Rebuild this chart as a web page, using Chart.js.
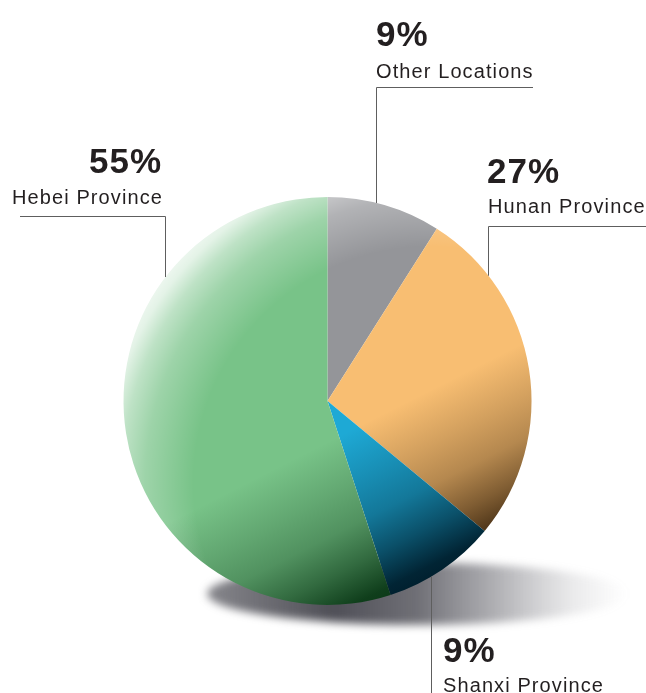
<!DOCTYPE html>
<html>
<head>
<meta charset="utf-8">
<script src="https://cdn.jsdelivr.net/npm/chart.js@4.4.1/dist/chart.umd.min.js"></script>
<style>
  html, body { margin: 0; padding: 0; background: #fff; }
  #wrap { width: 646px; height: 693px; }
</style>
</head>
<body>
<div id="wrap"><canvas id="chart-origin" width="646" height="693"></canvas></div>
<script>
// ---- Data (clockwise from 12 o'clock) ----
const LABELS = ['Other Locations', 'Hunan Province', 'Shanxi Province', 'Hebei Province'];
const SHARES = [9, 27, 9, 55];

// ---- Colours: base tone + shade tone per slice ----
const BASE_COLORS = ['#949599', '#F8BE72', '#1EA9D5', '#78C388'];
const DARK_COLORS = ['#5A5A60', '#3E2810', '#00202F', '#0C3A18'];

const TEXT_COLOR = '#231F20';
const LINE_COLOR = '#5E5E5E';

// label anchors: [percent x, percent baseline, name x, name baseline]
const LABEL_POS = [
  [376, 46, 376, 78],
  [487, 183, 488, 213],
  [443, 662, 443, 692],
  [89, 173, 12, 204],
];

function hexRgb(h) {
  const n = parseInt(h.slice(1), 16);
  return [(n >> 16) & 255, (n >> 8) & 255, n & 255];
}
function rgba(h, a) {
  const [r, g, b] = hexRgb(h);
  return `rgba(${r},${g},${b},${a})`;
}

// shaded fill: base colour, darkening towards the bottom, light rim at upper-left
const fillCache = {};
function shadedFill(chart, i) {
  const area = chart.chartArea;
  const key = i + ':' + area.left + ':' + area.top + ':' + area.width;
  if (fillCache[key]) return fillCache[key];
  const cx = (area.left + area.right) / 2;
  const cy = (area.top + area.bottom) / 2;
  const r = Math.min(area.width, area.height) / 2;

  const off = document.createElement('canvas');
  off.width = chart.width;
  off.height = chart.height;
  const g = off.getContext('2d');
  g.fillStyle = BASE_COLORS[i];
  g.fillRect(0, 0, off.width, off.height);

  const dark = DARK_COLORS[i];
  const lg = g.createLinearGradient(cx, cy, cx + 0.45 * r, cy + 0.89 * r);
  lg.addColorStop(0, rgba(dark, 0));
  lg.addColorStop(0.18, rgba(dark, 0));
  lg.addColorStop(0.42, rgba(dark, 0.2));
  lg.addColorStop(0.6, rgba(dark, 0.36));
  lg.addColorStop(0.78, rgba(dark, 0.65));
  lg.addColorStop(0.95, rgba(dark, 0.97));
  lg.addColorStop(1, rgba(dark, 1));
  g.fillStyle = lg;
  g.fillRect(0, 0, off.width, off.height);

  const rg = g.createRadialGradient(cx + 0.5 * r, cy + 0.4 * r, 0, cx + 0.5 * r, cy + 0.4 * r, 1.7 * r);
  rg.addColorStop(0, 'rgba(255,255,255,0)');
  rg.addColorStop(0.68, 'rgba(255,255,255,0)');
  rg.addColorStop(0.82, 'rgba(255,255,255,0.28)');
  rg.addColorStop(0.89, 'rgba(255,255,255,0.52)');
  rg.addColorStop(0.94, 'rgba(255,255,255,0.8)');
  rg.addColorStop(1, 'rgba(255,255,255,0.95)');
  g.fillStyle = rg;
  g.fillRect(0, 0, off.width, off.height);

  const pat = chart.ctx.createPattern(off, 'no-repeat');
  fillCache[key] = pat;
  return pat;
}

// ---- Plugin: floor shadow under the pie ----
const floorShadow = {
  id: 'floor-shadow',
  beforeDatasetsDraw(chart) {
    const arc = chart.getDatasetMeta(0).data[0];
    if (!arc) return;
    const { x, y, outerRadius: r } = arc;
    const ctx = chart.ctx;
    const sx = x + 0.44 * r, sy = y + 0.945 * r;
    const rx = 1.03 * r, ry = 0.152 * r;
    ctx.save();
    ctx.filter = 'blur(4px)';
    const gr = ctx.createLinearGradient(sx - rx, 0, sx + rx, 0);
    gr.addColorStop(0, 'rgba(70,70,78,0.65)');
    gr.addColorStop(0.3, 'rgba(70,70,78,0.95)');
    gr.addColorStop(0.5, 'rgba(80,80,88,0.82)');
    gr.addColorStop(0.7, 'rgba(90,90,98,0.45)');
    gr.addColorStop(0.87, 'rgba(110,110,118,0.14)');
    gr.addColorStop(1, 'rgba(120,120,128,0)');
    ctx.fillStyle = gr;
    ctx.beginPath();
    ctx.ellipse(sx, sy, rx, ry, 0, 0, Math.PI * 2);
    ctx.fill();
    ctx.restore();
  }
};

// ---- Plugin: percent labels with leader lines ----
const leaderLabels = {
  id: 'leader-labels',
  afterDraw(chart) {
    const arc = chart.getDatasetMeta(0).data[0];
    if (!arc) return;
    const { x: cx, y: cy, outerRadius: r } = arc;
    const ctx = chart.ctx;
    const edgeTop = px => cy - Math.sqrt(r * r - (px - cx) * (px - cx));
    const edgeBottom = px => cy + Math.sqrt(r * r - (px - cx) * (px - cx));

    ctx.save();
    ctx.strokeStyle = LINE_COLOR;
    ctx.lineWidth = 1;
    ctx.beginPath();
    // Other Locations
    ctx.moveTo(533, 87.5); ctx.lineTo(376.5, 87.5); ctx.lineTo(376.5, edgeTop(376.5));
    // Hunan
    ctx.moveTo(646, 226.5); ctx.lineTo(488.5, 226.5); ctx.lineTo(488.5, edgeTop(488.5));
    // Shanxi
    ctx.moveTo(431.5, edgeBottom(431.5)); ctx.lineTo(431.5, 693);
    // Hebei
    ctx.moveTo(20, 216.5); ctx.lineTo(165.5, 216.5); ctx.lineTo(165.5, edgeTop(165.5));
    ctx.stroke();

    ctx.fillStyle = TEXT_COLOR;
    ctx.textAlign = 'left';
    ctx.textBaseline = 'alphabetic';
    LABELS.forEach((name, i) => {
      const [px, py, nx, ny] = LABEL_POS[i];
      ctx.font = "bold 35px 'Liberation Sans', Arial, sans-serif";
      ctx.letterSpacing = '1px';
      ctx.fillText(SHARES[i] + '%', px, py);
      ctx.font = "20px 'Liberation Sans', Arial, sans-serif";
      ctx.letterSpacing = '1.1px';
      ctx.fillText(name, nx, ny);
    });
    ctx.restore();
  }
};

new Chart(document.getElementById('chart-origin'), {
  type: 'pie',
  data: {
    labels: LABELS,
    datasets: [{
      data: SHARES,
      backgroundColor: c => c.chart.chartArea ? shadedFill(c.chart, c.dataIndex) : BASE_COLORS[c.dataIndex],
      borderWidth: 0,
      hoverOffset: 0,
      offset: 0,
    }]
  },
  options: {
    responsive: false,
    animation: false,
    layout: { padding: { left: 123.5, right: 114.5, top: 197, bottom: 88 } },
    plugins: {
      legend: { display: false },
      tooltip: { enabled: false }
    }
  },
  plugins: [floorShadow, leaderLabels]
});
</script>
</body>
</html>
